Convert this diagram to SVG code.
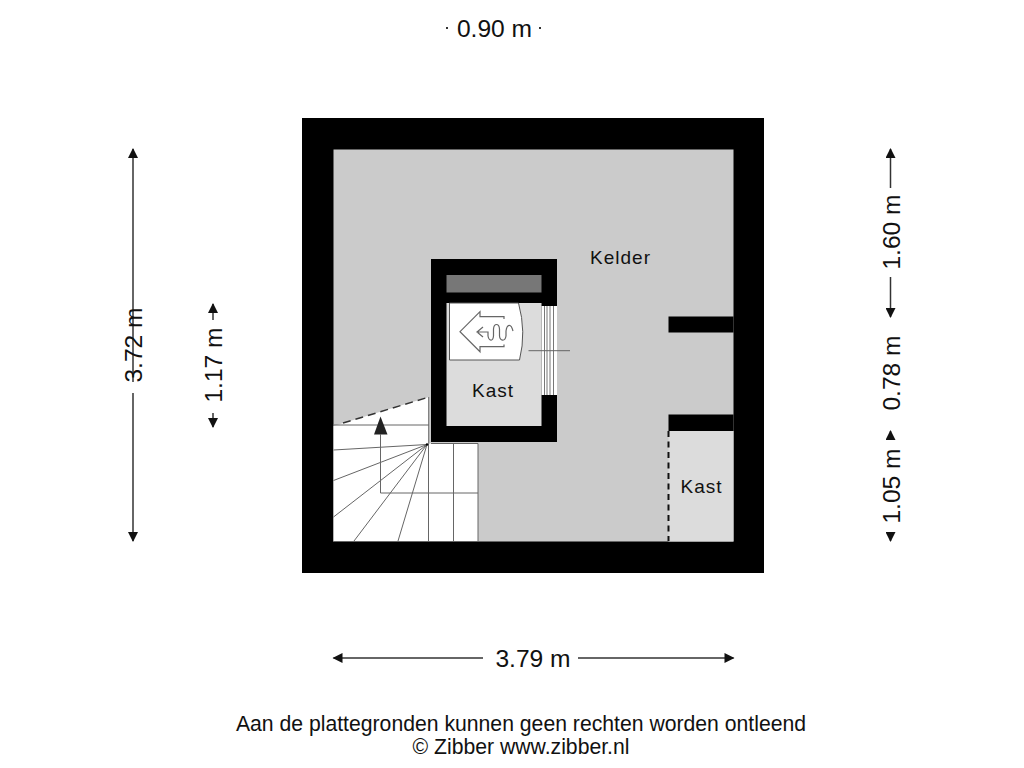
<svg xmlns="http://www.w3.org/2000/svg" width="1024" height="768" viewBox="0 0 1024 768">
<defs>
<style>
text{font-family:"Liberation Sans",Arial,sans-serif;fill:#111}
.dim{font-size:24.6px}
.room{font-size:19px;letter-spacing:1px}
.foot{font-size:21.2px}
.dl{stroke:#333;stroke-width:1.5;fill:none}
.dot{stroke:#333;stroke-width:2;fill:none}
.thin{stroke:#777;stroke-width:1;fill:none}
.stair{stroke:#666;stroke-width:1;fill:none}
.app{stroke:#666;stroke-width:1.2;fill:none}
</style>
<marker id="ah" viewBox="0 0 10 10" refX="9" refY="5" markerWidth="14" markerHeight="10" markerUnits="userSpaceOnUse" orient="auto"><path d="M0 0L10 5L0 10Z" fill="#111"/></marker>
</defs>
<rect width="1024" height="768" fill="#fff"/>
<g id="building">
<rect x="302" y="118" width="462" height="455" fill="#000"/>
<rect x="333.500" y="149.500" width="400" height="392" fill="#cbcbcb"/>
<rect x="668.500" y="431" width="65" height="110.500" fill="#dcdcdc"/>
<rect x="668.500" y="316.500" width="65" height="16" fill="#000"/>
<rect x="668.500" y="414.500" width="65" height="16.500" fill="#000"/>
<path d="M668.500 431V541" stroke="#111" stroke-width="2" stroke-dasharray="6 4.500" fill="none"/>
</g>
<g id="kast-inner">
<rect x="431" y="259" width="126" height="183" fill="#000"/>
<rect x="446.500" y="275" width="95" height="17.500" fill="#777"/>
<rect x="446.500" y="303" width="95" height="123" fill="#dcdcdc"/>
<rect x="541.500" y="306" width="15.500" height="89" fill="#fff"/>
<path class="thin" d="M544.500 306V395M547 306V395M550 306V395M553.500 306V395"/>
<path d="M528.500 350.700H570" stroke="#666" stroke-width="1" fill="none"/>
</g>
<g id="boiler">
<path d="M449.500 303V360H519.500Q526.500 332 518.500 303Z" fill="#fff" stroke="#555" stroke-width="1"/>
<path class="app" d="M504 319V316.700H480V311.700L460 331.700L480 351.700V346.700H504V344.500"/>
<path class="app" d="M513 331C511 323 507 324 506 331V336C505 342 500 341 499.500 336V329C499 323 494 323 493.500 329V336C493 342 489 341 488 336V332H478M483 327L477 332L483 337"/>
</g>
<g id="stairs">
<path d="M333.500 426L429 397V443.500H478V541.500H333.500Z" fill="#fff"/>
<path d="M343 423L429 397" stroke="#333" stroke-width="1.500" stroke-dasharray="8 5" fill="none"/>
<path class="stair" d="M428.700 397V444M333.500 425H429M333.500 450L427 444.500M333.500 480.500L427 444.500M333.500 517L427 444.500M354 541L427 444.500M398 541L427 444.500M428.500 444V541M453.500 444V541M380.500 443V493H478M431 443.500H478V541.500H333.500"/>
<path d="M380.500 416.500L387.500 434.500H374Z" fill="#222"/>
<path d="M380.500 434V443" class="stair"/>
<circle cx="427" cy="444.500" r="1.200" fill="#000"/>
</g>
<g id="connectors">
<path class="dot" d="M446 28h2M539 28h2"/>
<path class="dl" d="M133 382V149" marker-end="url(#ah)"/>
<path class="dl" d="M133 393V541" marker-end="url(#ah)"/>
<path class="dl" d="M213 320V304" marker-end="url(#ah)"/>
<path class="dl" d="M213 413V427" marker-end="url(#ah)"/>
<path class="dl" d="M890.500 188V149" marker-end="url(#ah)"/>
<path class="dl" d="M890.500 277V317" marker-end="url(#ah)"/>
<path class="dl" d="M890.500 438V431" marker-end="url(#ah)"/>
<path class="dl" d="M890.500 536V541" marker-end="url(#ah)"/>
<path class="dl" d="M483 658H333.500" marker-end="url(#ah)"/>
<path class="dl" d="M578 658H733.500" marker-end="url(#ah)"/>
</g>
<g id="labels">
<text class="dim" x="494.500" y="37" text-anchor="middle">0.90 m</text>
<text class="dim" transform="translate(142 345) rotate(-90)" text-anchor="middle">3.72 m</text>
<text class="dim" transform="translate(222 365) rotate(-90)" text-anchor="middle">1.17 m</text>
<text class="dim" transform="translate(899.500 232) rotate(-90)" text-anchor="middle">1.60 m</text>
<text class="dim" transform="translate(899.500 373) rotate(-90)" text-anchor="middle">0.78 m</text>
<text class="dim" transform="translate(899.500 486) rotate(-90)" text-anchor="middle">1.05 m</text>
<text class="dim" x="533" y="667" text-anchor="middle">3.79 m</text>
<text class="room" x="620.500" y="264" text-anchor="middle">Kelder</text>
<text class="room" x="493" y="397" text-anchor="middle">Kast</text>
<text class="room" x="701.500" y="493" text-anchor="middle">Kast</text>
<text class="foot" x="521" y="731" text-anchor="middle">Aan de plattegronden kunnen geen rechten worden ontleend</text>
<text class="foot" x="521" y="754" text-anchor="middle">© Zibber www.zibber.nl</text>
</g>
</svg>
